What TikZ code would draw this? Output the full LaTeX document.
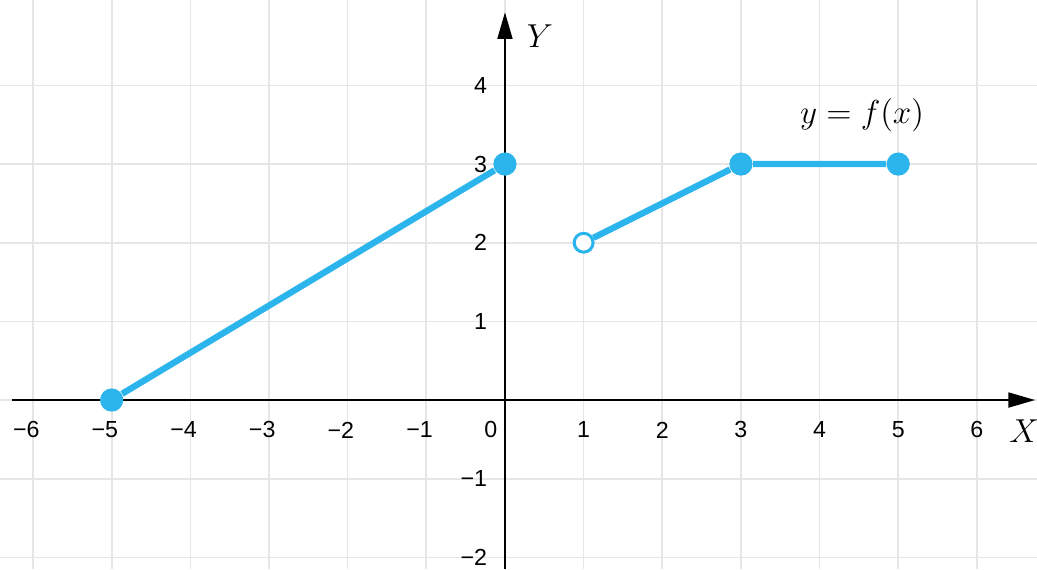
\documentclass[tikz,border=0pt]{standalone}
\usepackage{fontspec}
\newfontfamily\ticksfont{Liberation Sans}
\usetikzlibrary{arrows.meta}
\definecolor{fLine}{HTML}{2CB4EC}
\definecolor{gridLine}{HTML}{E6E6E6}

\begin{document}
\begin{tikzpicture}[
  gridline/.style={draw=gridLine, line width=0.6pt},
  axis/.style={-{Triangle[length=3.4mm, width=1.9mm]}, line width=0.75pt},
  graph/.style={draw=fLine, line width=2.3pt},
  fulldot/.style={circle, fill=fLine, inner sep=0pt, minimum size=2.95mm},
  opendot/.style={circle, draw=fLine, fill=white, line width=1.1pt, inner sep=0pt, minimum size=2.4mm},
  ticklabel/.style={font=\ticksfont\fontsize{8.4}{10}\selectfont, inner sep=0pt},
  axislabel/.style={font=\fontsize{12}{14}\selectfont, inner sep=0pt}
]
  \useasboundingbox (-6.42,-2.15) rectangle (6.764,5.086);
  \foreach \x in {-6,...,6} \draw[gridline] (\x,-2.15) -- (\x,5.086);
  \foreach \y in {-2,...,4} \draw[gridline] (-6.42,\y) -- (6.764,\y);

  \coordinate (xstart) at (-6.27,0);
  \coordinate (xend) at (6.74,0);
  \coordinate (ystart) at (0,-2.15);
  \coordinate (yend) at (0,4.93);
  \draw[axis] (xstart) -- (xend);
  \draw[axis] (ystart) -- (yend);

  \foreach \x in {-6,...,-1} \node[ticklabel] (xt\x) at (\x,-0.38) {\llap{−}\the\numexpr-\x\relax};
  \foreach \x in {1,...,6} \node[ticklabel] (xt\x) at (\x,-0.38) {\x};
  \node[ticklabel] (xt0) at (-0.18,-0.38) {0};
  \foreach \y in {1,...,4} \node[ticklabel, anchor=east] (yt\y) at (-0.22,\y) {\y};
  \foreach \y in {-2,-1} \node[ticklabel, anchor=east] (yt\y) at (-0.22,\y) {−\the\numexpr-\y\relax};

  \node[axislabel] (ylab) at (0.445,4.62) {$Y$};
  \node[axislabel] (xlab) at (6.6,-0.39) {$X$};
  \node[axislabel] (flab) at (4.54,3.62) {$y=f(x)$};

  \node[fulldot] (pA) at (-5,0) {};
  \node[fulldot] (pB) at (0,3) {};
  \node[opendot] (pC) at (1,2) {};
  \node[fulldot] (pD) at (3,3) {};
  \node[fulldot] (pE) at (5,3) {};
  \draw[graph] (pA) -- (pB);
  \draw[graph] (pC) -- (pD) -- (pE);
\end{tikzpicture}
\end{document}
